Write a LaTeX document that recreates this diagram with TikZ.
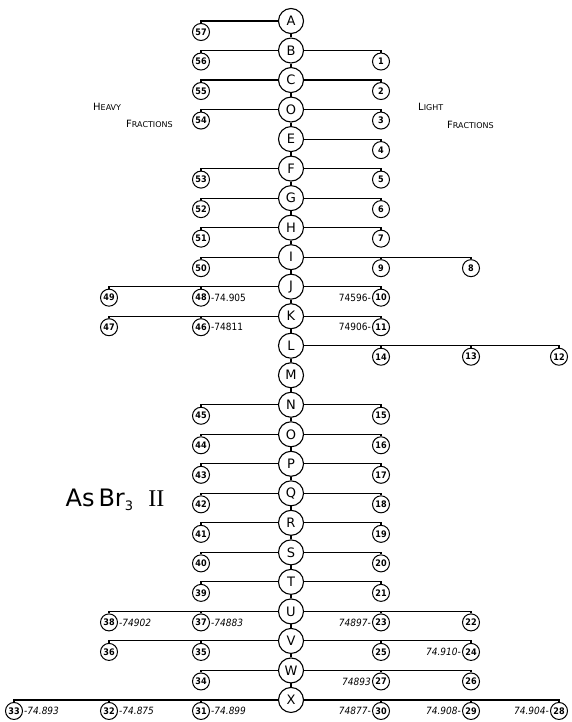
\documentclass[tikz,border=0pt]{standalone}
\usepackage{fontspec}
\setmainfont{DejaVu Sans}
\newfontfamily\condf{DejaVu Sans Condensed}
\newfontfamily\serf{Liberation Serif}
\begin{document}
\begin{tikzpicture}[x=1pt,y=-1pt,
  big/.style={circle,draw,line width=1.1pt,minimum size=25pt,inner sep=0pt,font=\fontsize{13}{13}\selectfont},
  sm/.style={circle,draw,line width=1pt,minimum size=17pt,inner sep=0pt,font=\condf\bfseries\fontsize{9}{9}\selectfont},
  lab/.style={inner sep=1pt,font=\condf\fontsize{10}{10}\selectfont},
  slab/.style={inner sep=1pt,font=\condf\fontsize{10}{10}\selectfont\itshape},
  ln/.style={line width=1.1pt},
  hdr/.style={inner sep=0pt,anchor=west,font=\fontsize{10}{10}\selectfont}
]
\useasboundingbox (0,0) rectangle (571,722);
\def\cx{291}
% big circles
\foreach \n/\l [count=\i from 0] in {A/A,B/B,C/C,D/O,E/E,F/F,G/G,H/H,I/I,J/J,K/K,L/L,M/M,N/N,O/O,P/P,Q/Q,R/R,S/S,T/T,U/U,V/V,W/W,X/X}{
  \node[big] (\n) at (\cx,{21+29.52*\i}) {\l};
}
\foreach \a/\b in {A/B,B/C,C/D,D/E,E/F,F/G,G/H,H/I,I/J,J/K,K/L,L/M,M/N,N/O,O/P,P/Q,Q/R,R/S,S/T,T/U,U/V,V/W,W/X}{
  \draw[ln] (\a.south) -- (\b.north);
}
% small circles: label/row index/x
\foreach \t/\r/\x in {57/0/201,56/1/201,55/2/201,54/3/201,53/5/201,52/6/201,51/7/201,50/8/201,
  49/9/109,48/9/201,47/10/109,46/10/201,45/13/201,44/14/201,43/15/201,42/16/201,41/17/201,40/18/201,39/19/201,
  38/20/109,37/20/201,36/21/109,35/21/201,34/22/201,33/23/14,32/23/109,31/23/201,
  1/1/381,2/2/381,3/3/381,4/4/381,5/5/381,6/6/381,7/7/381,9/8/381,8/8/471,10/9/381,11/10/381,
  14/11/381,13/11/471,12/11/559,15/13/381,16/14/381,17/15/381,18/16/381,19/17/381,20/18/381,21/19/381,
  23/20/381,22/20/471,25/21/381,24/21/471,27/22/381,26/22/471,30/23/381,29/23/471,28/23/559}{
  \node[sm] (s\t) at (\x,{21+29.52*\r+11}) {\t};
}
% main branches
\foreach \r/\s in {A/57,B/56,C/55,D/54,F/53,G/52,H/51,I/50,J/49,K/47,N/45,O/44,P/43,Q/42,R/41,S/40,T/39,U/38,V/36,W/34,X/33}{
  \draw[ln] (\r.west) -| (s\s.north);
}
\foreach \r/\s in {B/1,C/2,D/3,E/4,F/5,G/6,H/7,I/8,J/10,K/11,L/12,N/15,O/16,P/17,Q/18,R/19,S/20,T/21,U/22,V/24,W/26,X/28}{
  \draw[ln] (\r.east) -| (s\s.north);
}
% intermediate drops
\foreach \r/\s in {J/48,K/46,U/37,V/35,X/32,X/31,I/9,L/14,L/13,U/23,V/25,W/27,X/30,X/29}{
  \draw[ln] (s\s.north) -- (s\s.north |- \r.center);
}
% value labels
\node[lab,anchor=west] (t48) at (s48.east) {-74.905};
\node[lab,anchor=west] (t46) at (s46.east) {-74811};
\node[lab,anchor=east] (t10) at (s10.west) {74596-};
\node[lab,anchor=east] (t11) at (s11.west) {74906-};
\node[slab,anchor=west] (t38) at (s38.east) {-74902};
\node[slab,anchor=west] (t37) at (s37.east) {-74883};
\node[slab,anchor=east] (t23) at (s23.west) {74897-};
\node[slab,anchor=east] (t24) at (s24.west) {74.910-};
\node[slab,anchor=east] (t27) at (s27.west) {74893};
\node[slab,anchor=west] (t33) at (s33.east) {-74.893};
\node[slab,anchor=west] (t32) at (s32.east) {-74.875};
\node[slab,anchor=west] (t31) at (s31.east) {-74.899};
\node[slab,anchor=east] (t30) at (s30.west) {74877-};
\node[slab,anchor=east] (t29) at (s29.west) {74.908-};
\node[slab,anchor=east] (t28) at (s28.west) {74.904-};
% headers
\node[hdr] (h1) at (93,107) {H{\fontsize{8}{8}\selectfont EAVY}};
\node[hdr] (h2) at (126,124) {F{\fontsize{8}{8}\selectfont RACTIONS}};
\node[hdr] (h3) at (418,107) {L{\fontsize{8}{8}\selectfont IGHT}};
\node[hdr] (h4) at (447,125) {F{\fontsize{8}{8}\selectfont RACTIONS}};
% title
\node[inner sep=0pt,font=\fontsize{24}{24}\selectfont] (ttl) at (115,500) {As\,Br\raisebox{-0.35ex}{\fontsize{13}{13}\selectfont 3}\ \ {\serf II}};
\end{tikzpicture}
\end{document}
